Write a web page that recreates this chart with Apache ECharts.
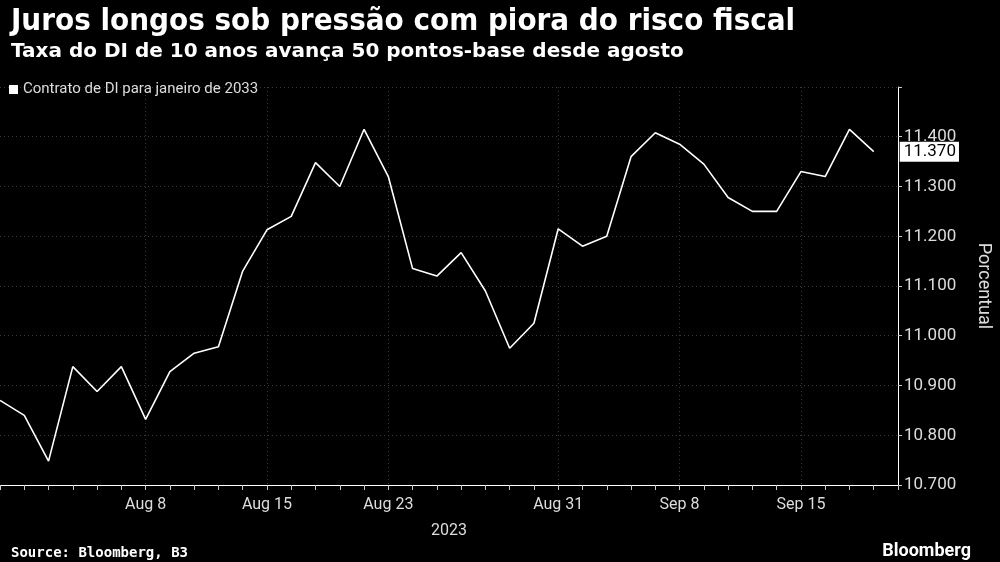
<!DOCTYPE html>
<html>
<head>
<meta charset="utf-8">
<script src="https://cdn.jsdelivr.net/npm/echarts@6/dist/echarts.min.js"></script>
<style>
body { margin: 0; background: #000; }
#chart { width: 1000px; height: 562px; }
</style>
</head>
<body>
<div id="chart"></div>
<script>
// trading days, one per point (last slot left empty for spacing to axis)
const days = [
   'Jul 31', 'Aug 1', 'Aug 2', 'Aug 3', 'Aug 4', 'Aug 7', 'Aug 8', 'Aug 9', 'Aug 10', 'Aug 11',
   'Aug 14', 'Aug 15', 'Aug 16', 'Aug 17', 'Aug 18', 'Aug 21', 'Aug 23', 'Aug 24', 'Aug 25', 'Aug 28',
   'Aug 29', 'Aug 30', 'Aug 31b', 'Aug 31', 'Sep 1', 'Sep 4', 'Sep 5', 'Sep 6', 'Sep 8', 'Sep 11',
   'Sep 12', 'Sep 13', 'Sep 14', 'Sep 15', 'Sep 18', 'Sep 19', 'Sep 20', ''
];
const rates = [
   10.870, 10.840, 10.748, 10.938, 10.888, 10.938, 10.832, 10.928, 10.965, 10.978,
   11.130, 11.213, 11.240, 11.348, 11.300, 11.415, 11.320, 11.135, 11.120, 11.167,
   11.090, 10.975, 11.025, 11.215, 11.180, 11.200, 11.360, 11.408, 11.385, 11.345,
   11.278, 11.250, 11.250, 11.330, 11.320, 11.415, 11.370, null
];
const tickIdx = [6, 11, 16, 23, 28, 33];
const tickText = ['Aug 8', 'Aug 15', 'Aug 23', 'Aug 31', 'Sep 8', 'Sep 15'];

const chart = echarts.init(document.getElementById('chart'));
const font = 'Liberation Sans Narrow, Roboto, sans-serif';

chart.setOption({
   backgroundColor: '#000',
   animation: false,
   title: [
      { text: 'Juros longos sob pressão com piora do risco fiscal', left: 6, top: 1,
        textStyle: { color: '#fff', fontSize: 31, fontWeight: 'bold', fontFamily: 'DejaVu Sans Condensed, sans-serif' } },
      { text: 'Taxa do DI de 10 anos avança 50 pontos-base desde agosto', left: 6, top: 37,
        textStyle: { color: '#fff', fontSize: 20, fontWeight: 'bold', fontFamily: 'DejaVu Sans, sans-serif' } },
      { text: 'Source: Bloomberg, B3', left: 6, top: 541,
        textStyle: { color: '#fff', fontSize: 14, fontWeight: 'bold', fontFamily: 'DejaVu Sans Mono, monospace' } },
      { text: 'Bloomberg', right: 24, top: 537,
        textStyle: { color: '#fff', fontSize: 18, fontWeight: 'bold', fontFamily: font } }
   ],
   legend: {
      left: 4, top: 77, itemWidth: 9, itemHeight: 9, icon: 'rect',
      textStyle: { color: '#ddd', fontSize: 15, fontFamily: font },
      data: [{ name: 'Contrato de DI para janeiro de 2033', itemStyle: { color: '#fff' } }]
   },
   grid: { left: 0, right: 89, top: 87, bottom: 77 },
   xAxis: {
      type: 'category',
      data: days,
      boundaryGap: false,
      axisLine: { lineStyle: { color: '#fff' } },
      axisTick: { show: true, interval: 0, length: 5, lineStyle: { color: '#ccc' } },
      axisLabel: {
         color: '#ddd', fontSize: 16, fontFamily: font, margin: 12,
         interval: (i) => tickIdx.includes(i),
         formatter: (v, i) => tickText[tickIdx.indexOf(i)] || ''
      },
      splitLine: {
         show: true,
         interval: (i) => tickIdx.includes(i),
         lineStyle: { color: '#3a3a3a', type: [1, 3] }
      },
      name: '2023', nameLocation: 'middle', nameGap: 38,
      nameTextStyle: { color: '#ddd', fontSize: 16, fontFamily: font }
   },
   yAxis: {
      type: 'value',
      position: 'right',
      min: 10.7, max: 11.5, interval: 0.1,
      axisLine: { show: true, lineStyle: { color: '#fff' } },
      axisTick: { show: true, length: 4, lineStyle: { color: '#ccc' } },
      axisLabel: {
         color: '#ddd', fontSize: 17, fontFamily: font, margin: 6,
         formatter: (v) => (v > 11.45 ? '' : v.toFixed(3))
      },
      splitLine: { lineStyle: { color: '#3a3a3a', type: [1, 3] } },
      name: 'Porcentual', nameLocation: 'middle', nameRotate: -90, nameGap: 76,
      nameTextStyle: { color: '#ddd', fontSize: 18, fontFamily: font }
   },
   series: [{
      name: 'Contrato de DI para janeiro de 2033',
      type: 'line',
      data: rates,
      showSymbol: false,
      lineStyle: { color: '#fff', width: 1.6 },
      itemStyle: { color: '#fff' },
      endLabel: {
         show: true,
         offset: [18, 0],
         formatter: (p) => p.value.toFixed(3),
         color: '#000', backgroundColor: '#fff',
         fontSize: 17, fontFamily: font, padding: [2, 3, 1, 4]
      }
   }]
});
</script>
</body>
</html>
